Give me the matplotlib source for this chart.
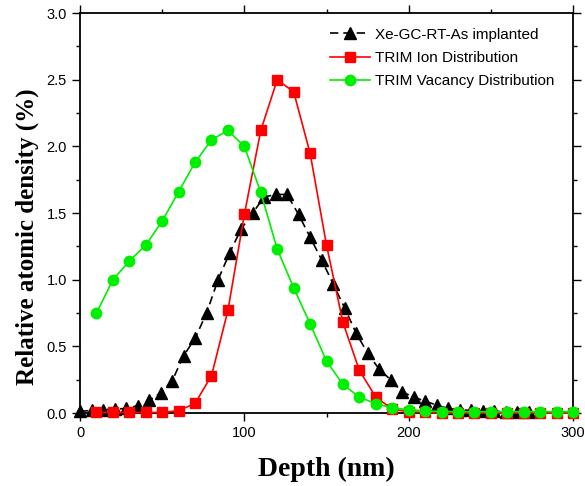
import matplotlib
matplotlib.use("Agg")
import matplotlib.pyplot as plt
import numpy as np
from matplotlib.ticker import MultipleLocator

# Xe-GC-RT-As implanted (step 7 nm)
exp_depth = [7 * i for i in range(40)]
exp_vals = [0.013, 0.02, 0.025, 0.03, 0.035, 0.055, 0.095, 0.15, 0.24, 0.43,
            0.56, 0.75, 1.0, 1.2, 1.38, 1.5, 1.62, 1.64, 1.64, 1.49,
            1.32, 1.15, 0.97, 0.79, 0.60, 0.45, 0.33, 0.25, 0.16, 0.12,
            0.09, 0.06, 0.035, 0.025, 0.02, 0.015, 0.015, 0.01, 0.01, 0.01]

# TRIM ion distribution
ion_depth = list(range(10, 310, 10))
ion_vals = [0.005, 0.005, 0.005, 0.005, 0.005, 0.018, 0.073, 0.28, 0.77, 1.49,
            2.12, 2.50, 2.41, 1.95, 1.26, 0.68, 0.32, 0.12, 0.03, 0.01,
            0.005, 0.0, 0.0, 0.0, 0.0, 0.0, 0.0, 0.0, 0.0, 0.0]

# TRIM vacancy distribution
vac_depth = list(range(10, 310, 10))
vac_vals = [0.75, 1.00, 1.14, 1.26, 1.44, 1.66, 1.88, 2.05, 2.12, 2.00,
            1.655, 1.23, 0.94, 0.67, 0.39, 0.215, 0.12, 0.07, 0.04, 0.025,
            0.017, 0.012, 0.01, 0.01, 0.01, 0.01, 0.01, 0.01, 0.01, 0.01]

labels = ["Xe-GC-RT-As implanted", "TRIM Ion Distribution", "TRIM Vacancy Distribution"]

fig = plt.figure(figsize=(5.85, 4.86), dpi=100)
ax = fig.add_axes([0.1368, 0.150, 0.9795 - 0.1368, 0.973 - 0.150])

ax.plot(exp_depth, exp_vals, color="black", linestyle=(0, (5, 3)), linewidth=1.2,
        marker="^", markersize=8, markeredgecolor="black", label=labels[0], zorder=3,
        clip_on=False)
ax.plot(ion_depth, ion_vals, color="#ff0000", linestyle="-", linewidth=1.2,
        marker="s", markersize=6.5, markeredgecolor="#ff0000", label=labels[1], zorder=4,
        clip_on=False)
ax.plot(vac_depth, vac_vals, color="#00ee00", linestyle="-", linewidth=1.2,
        marker="o", markersize=7.5, markeredgecolor="#00ee00", label=labels[2], zorder=5,
        clip_on=False)

ax.set_xlim(0, 300)
ax.set_ylim(0, 3.0)
ax.xaxis.set_major_locator(MultipleLocator(100))
ax.xaxis.set_minor_locator(MultipleLocator(50))
ax.yaxis.set_major_locator(MultipleLocator(0.5))
ax.yaxis.set_minor_locator(MultipleLocator(0.25))
ax.yaxis.set_major_formatter(matplotlib.ticker.FormatStrFormatter("%.1f"))

ax.tick_params(which="both", direction="out", top=True, right=True,
               labeltop=False, labelright=False, width=1.0, colors="black")
ax.tick_params(which="major", length=6)
ax.tick_params(which="minor", length=3)
for lab in ax.get_xticklabels() + ax.get_yticklabels():
    lab.set_fontfamily("Liberation Sans")
    lab.set_fontsize(10.5)
for sp in ax.spines.values():
    sp.set_linewidth(1.3)

ax.set_xlabel("Depth (nm)", fontfamily="Liberation Serif", fontweight="bold", fontsize=20, labelpad=12)
ax.set_ylabel("Relative atomic density (%)", fontfamily="Liberation Serif", fontweight="bold", fontsize=18)
ax.yaxis.set_label_coords(-0.083, 0.44)

leg = ax.legend(loc="upper left", frameon=False, prop={"family": "Liberation Sans", "size": 11},
                handlelength=2.6, handletextpad=0.33, labelspacing=0.6,
                borderpad=0, borderaxespad=0,
                bbox_to_anchor=(0.507, 0.9635))

fig.savefig("out.png", dpi=100)
